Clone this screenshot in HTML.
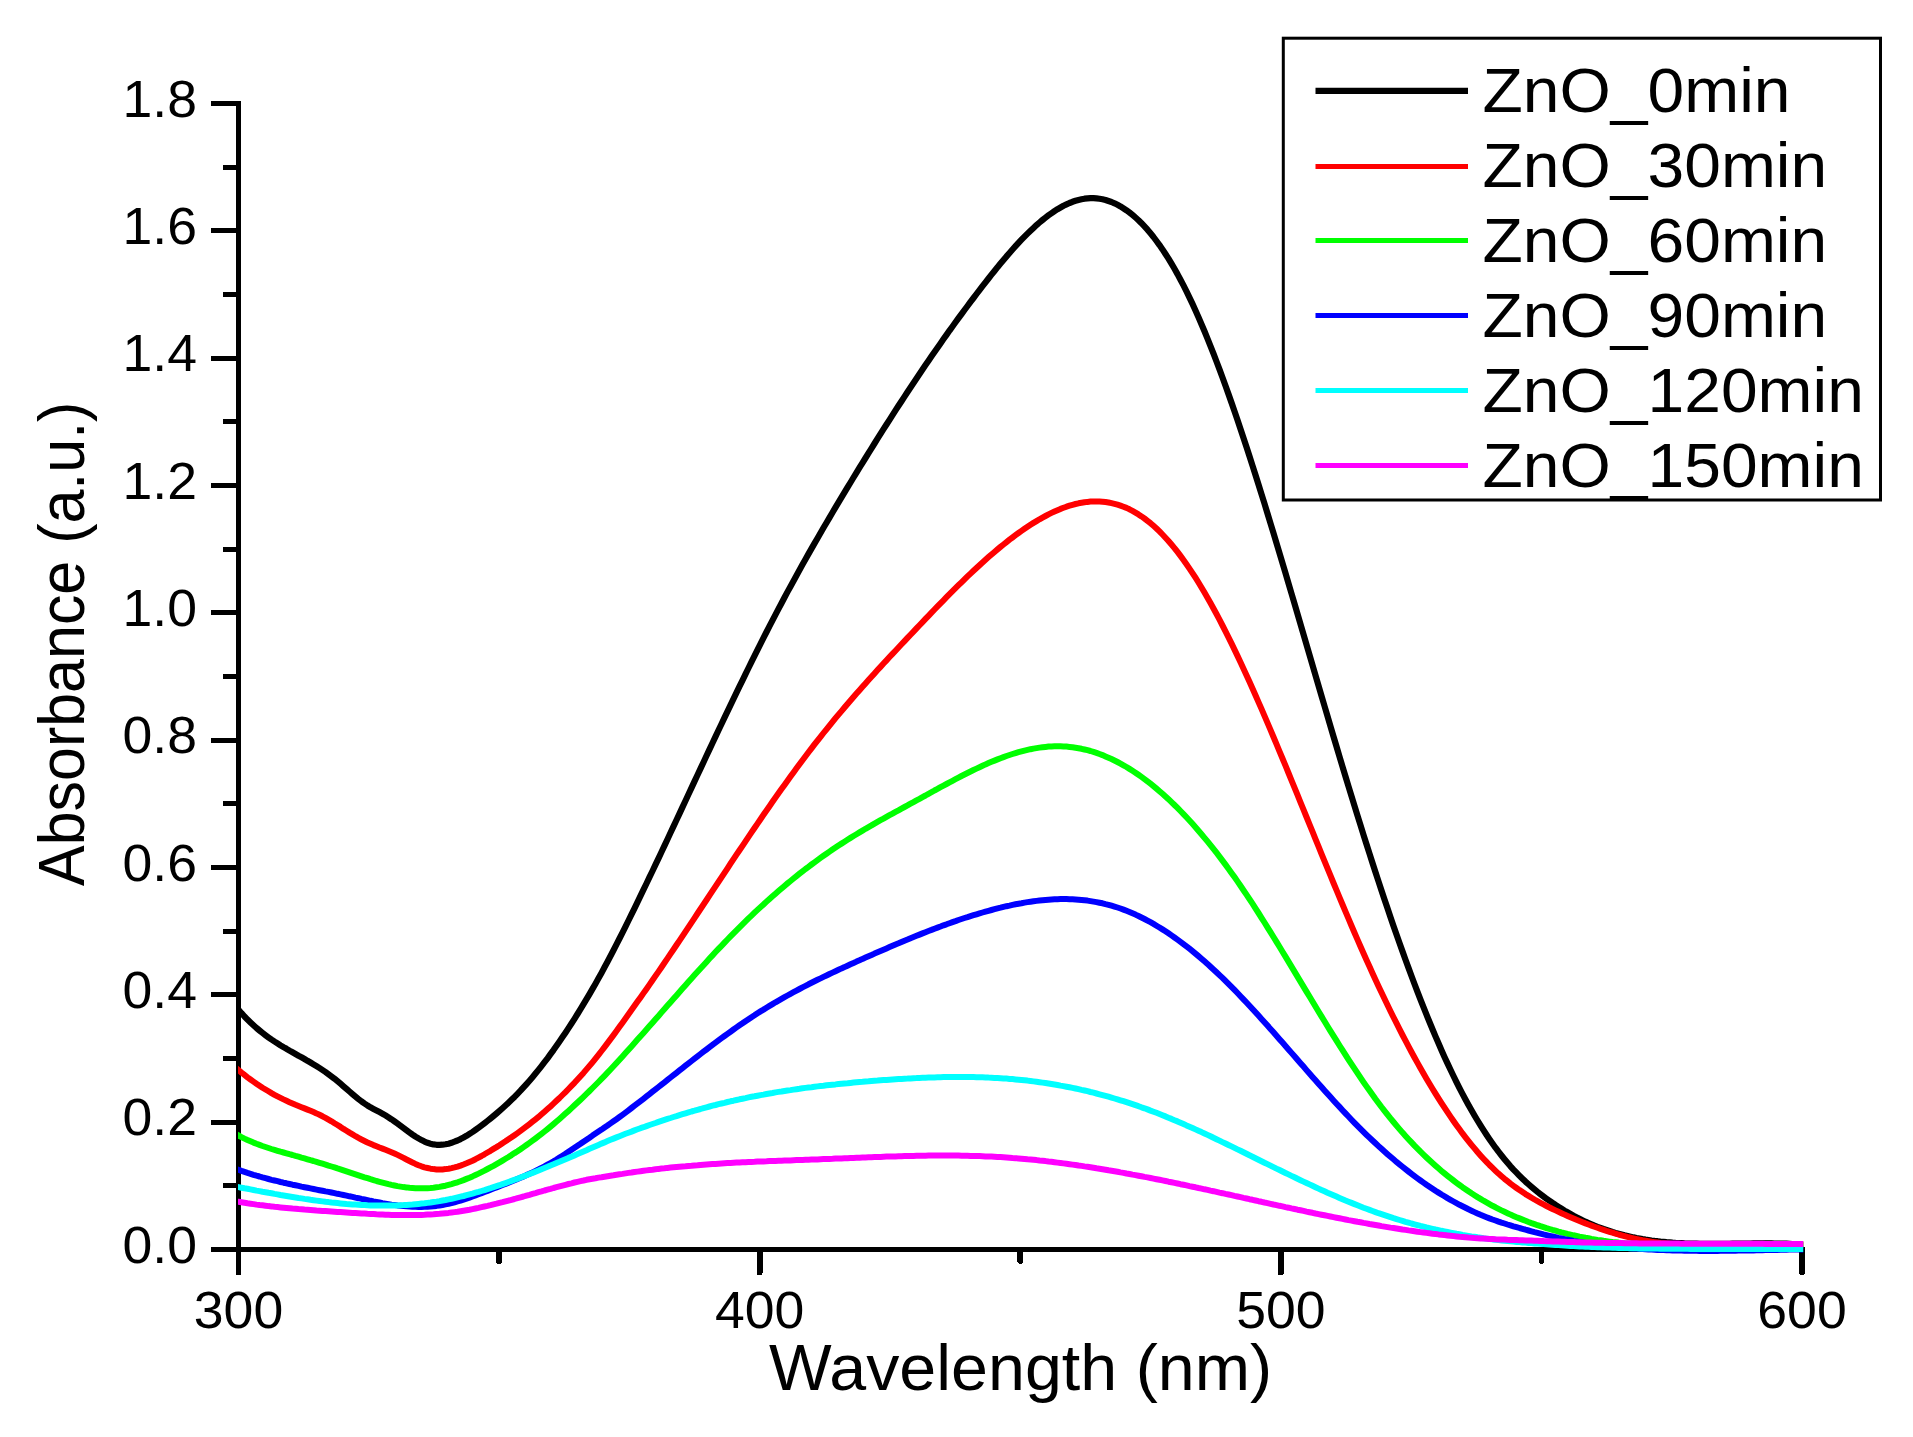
<!DOCTYPE html>
<html lang="en"><head><meta charset="utf-8"><title>ZnO absorbance spectra</title>
<style>html,body{margin:0;padding:0;background:#fff;}svg{display:block;}text{font-family:"Liberation Sans",Arial,Helvetica,sans-serif;fill:#000;}</style></head><body>
<svg width="1913" height="1437" viewBox="0 0 1913 1437">
<rect x="0" y="0" width="1913" height="1437" fill="#ffffff"/>
<g id="axes" fill="#000" shape-rendering="crispEdges">
<rect x="236" y="101" width="5" height="1174"/>
<rect x="211" y="1247" width="1594" height="5"/>
<rect x="211" y="1247.0" width="26" height="5"/>
<rect x="223" y="1183.0" width="14" height="5" rx="1.5"/>
<rect x="211" y="1120.0" width="26" height="5" rx="1.5"/>
<rect x="223" y="1056.0" width="14" height="5" rx="1.5"/>
<rect x="211" y="992.0" width="26" height="5" rx="1.5"/>
<rect x="223" y="929.0" width="14" height="5" rx="1.5"/>
<rect x="211" y="865.0" width="26" height="5" rx="1.5"/>
<rect x="223" y="801.0" width="14" height="5" rx="1.5"/>
<rect x="211" y="738.0" width="26" height="5" rx="1.5"/>
<rect x="223" y="674.0" width="14" height="5" rx="1.5"/>
<rect x="211" y="610.0" width="26" height="5" rx="1.5"/>
<rect x="223" y="547.0" width="14" height="5" rx="1.5"/>
<rect x="211" y="483.0" width="26" height="5" rx="1.5"/>
<rect x="223" y="419.0" width="14" height="5" rx="1.5"/>
<rect x="211" y="356.0" width="26" height="5" rx="1.5"/>
<rect x="223" y="292.0" width="14" height="5" rx="1.5"/>
<rect x="211" y="228.0" width="26" height="5" rx="1.5"/>
<rect x="223" y="165.0" width="14" height="5" rx="1.5"/>
<rect x="211" y="101.0" width="26" height="5"/>
<rect x="235.6" y="1248" width="5.8" height="27" rx="2"/>
<rect x="496.2" y="1248" width="5.8" height="15.8" rx="2"/>
<rect x="756.8" y="1248" width="5.8" height="27" rx="2"/>
<rect x="1017.4" y="1248" width="5.8" height="15.8" rx="2"/>
<rect x="1277.9" y="1248" width="5.8" height="27" rx="2"/>
<rect x="1538.5" y="1248" width="5.8" height="15.8" rx="2"/>
<rect x="1799.1" y="1248" width="5.8" height="27" rx="2"/>
</g>
<g id="ticklabels" font-size="52.00">
<text transform="translate(197.00,1262.80) scale(1.0300,1)" text-anchor="end">0.0</text>
<text transform="translate(197.00,1135.46) scale(1.0300,1)" text-anchor="end">0.2</text>
<text transform="translate(197.00,1008.12) scale(1.0300,1)" text-anchor="end">0.4</text>
<text transform="translate(197.00,880.78) scale(1.0300,1)" text-anchor="end">0.6</text>
<text transform="translate(197.00,753.44) scale(1.0300,1)" text-anchor="end">0.8</text>
<text transform="translate(197.00,626.10) scale(1.0300,1)" text-anchor="end">1.0</text>
<text transform="translate(197.00,498.76) scale(1.0300,1)" text-anchor="end">1.2</text>
<text transform="translate(197.00,371.42) scale(1.0300,1)" text-anchor="end">1.4</text>
<text transform="translate(197.00,244.08) scale(1.0300,1)" text-anchor="end">1.6</text>
<text transform="translate(197.00,116.74) scale(1.0300,1)" text-anchor="end">1.8</text>
<text transform="translate(238.50,1327.60) scale(1.0300,1)" text-anchor="middle">300</text>
<text transform="translate(759.67,1327.60) scale(1.0300,1)" text-anchor="middle">400</text>
<text transform="translate(1280.83,1327.60) scale(1.0300,1)" text-anchor="middle">500</text>
<text transform="translate(1802.00,1327.60) scale(1.0300,1)" text-anchor="middle">600</text>
</g>
<text id="xtitle" font-size="64.30" transform="translate(769.00,1390.20) scale(1.0330,1)">Wavelength (nm)</text>
<text id="ytitle" font-size="64.00" transform="translate(83.90,886.00) rotate(-90) scale(0.9524,1.0000)">Absorbance (a.u.)</text>
<clipPath id="plotclip"><rect x="238" y="90" width="1565.2" height="1175"/></clipPath>
<g id="curves" fill="none" stroke-linejoin="round" stroke-linecap="butt" clip-path="url(#plotclip)">
<path d="M232.5,1002.8 L238.5,1009.7 L241.5,1013.2 L244.5,1016.5 L247.5,1019.6 L250.5,1022.5 L253.5,1025.3 L256.5,1028.0 L259.5,1030.5 L262.5,1032.9 L265.5,1035.2 L268.5,1037.4 L271.5,1039.5 L274.5,1041.5 L277.5,1043.4 L280.5,1045.3 L283.5,1047.1 L286.5,1048.8 L289.5,1050.6 L292.5,1052.3 L295.5,1054.0 L298.5,1055.7 L301.5,1057.3 L304.5,1059.0 L307.5,1060.8 L310.5,1062.5 L313.5,1064.3 L316.5,1066.1 L319.5,1068.0 L322.5,1070.0 L325.5,1072.0 L328.5,1074.2 L331.5,1076.4 L334.5,1078.7 L337.5,1081.2 L340.5,1083.7 L343.5,1086.3 L346.5,1088.9 L349.5,1091.5 L352.5,1094.1 L355.5,1096.6 L358.5,1099.1 L361.5,1101.4 L364.5,1103.5 L367.5,1105.5 L370.5,1107.3 L373.5,1108.9 L376.5,1110.5 L379.5,1112.1 L382.5,1113.7 L385.5,1115.4 L388.5,1117.3 L391.5,1119.3 L394.5,1121.4 L397.5,1123.6 L400.5,1125.8 L403.5,1128.0 L406.5,1130.3 L409.5,1132.5 L412.5,1134.6 L415.5,1136.6 L418.5,1138.4 L421.5,1140.1 L424.5,1141.6 L427.5,1142.8 L430.5,1143.7 L433.5,1144.4 L436.5,1144.8 L439.5,1144.9 L442.5,1144.7 L445.5,1144.3 L448.5,1143.7 L451.5,1142.8 L454.5,1141.7 L457.5,1140.5 L460.5,1139.1 L463.5,1137.5 L466.5,1135.8 L469.5,1133.9 L472.5,1132.0 L475.5,1129.9 L478.5,1127.7 L481.5,1125.5 L484.5,1123.2 L487.5,1120.9 L490.5,1118.5 L493.5,1116.0 L496.5,1113.5 L499.5,1110.9 L502.5,1108.2 L505.5,1105.5 L508.5,1102.7 L511.5,1099.8 L514.5,1096.9 L517.5,1093.8 L520.5,1090.7 L523.5,1087.4 L526.5,1084.1 L529.5,1080.7 L532.5,1077.2 L535.5,1073.6 L538.5,1069.9 L541.5,1066.1 L544.5,1062.2 L547.5,1058.3 L550.5,1054.2 L553.5,1050.1 L556.5,1045.8 L559.5,1041.5 L562.5,1037.1 L565.5,1032.7 L568.5,1028.1 L571.5,1023.5 L574.5,1018.8 L577.5,1014.0 L580.5,1009.2 L583.5,1004.2 L586.5,999.2 L589.5,994.1 L592.5,988.9 L595.5,983.7 L598.5,978.3 L601.5,972.9 L604.5,967.3 L607.5,961.7 L610.5,956.0 L613.5,950.3 L616.5,944.4 L619.5,938.5 L622.5,932.6 L625.5,926.6 L628.5,920.5 L631.5,914.4 L634.5,908.3 L637.5,902.1 L640.5,895.9 L643.5,889.7 L646.5,883.5 L649.5,877.2 L652.5,871.0 L655.5,864.6 L658.5,858.3 L661.5,852.0 L664.5,845.6 L667.5,839.2 L670.5,832.8 L673.5,826.4 L676.5,820.0 L679.5,813.6 L682.5,807.1 L685.5,800.7 L688.5,794.3 L691.5,787.9 L694.5,781.4 L697.5,775.0 L700.5,768.6 L703.5,762.2 L706.5,755.8 L709.5,749.4 L712.5,743.0 L715.5,736.7 L718.5,730.3 L721.5,724.0 L724.5,717.7 L727.5,711.4 L730.5,705.1 L733.5,698.9 L736.5,692.6 L739.5,686.4 L742.5,680.3 L745.5,674.1 L748.5,668.0 L751.5,661.9 L754.5,655.9 L757.5,649.8 L760.5,643.9 L763.5,637.9 L766.5,632.0 L769.5,626.2 L772.5,620.3 L775.5,614.6 L778.5,608.8 L781.5,603.2 L784.5,597.5 L787.5,591.9 L790.5,586.4 L793.5,580.9 L796.5,575.4 L799.5,570.0 L802.5,564.6 L805.5,559.2 L808.5,553.9 L811.5,548.6 L814.5,543.4 L817.5,538.2 L820.5,533.0 L823.5,527.8 L826.5,522.7 L829.5,517.6 L832.5,512.5 L835.5,507.4 L838.5,502.4 L841.5,497.4 L844.5,492.4 L847.5,487.4 L850.5,482.5 L853.5,477.5 L856.5,472.6 L859.5,467.7 L862.5,462.8 L865.5,458.0 L868.5,453.1 L871.5,448.3 L874.5,443.5 L877.5,438.7 L880.5,433.9 L883.5,429.2 L886.5,424.5 L889.5,419.8 L892.5,415.1 L895.5,410.4 L898.5,405.8 L901.5,401.2 L904.5,396.6 L907.5,392.0 L910.5,387.5 L913.5,383.0 L916.5,378.5 L919.5,374.0 L922.5,369.5 L925.5,365.1 L928.5,360.7 L931.5,356.3 L934.5,352.0 L937.5,347.7 L940.5,343.4 L943.5,339.1 L946.5,334.9 L949.5,330.6 L952.5,326.5 L955.5,322.3 L958.5,318.2 L961.5,314.1 L964.5,310.0 L967.5,306.0 L970.5,301.9 L973.5,298.0 L976.5,294.0 L979.5,290.1 L982.5,286.2 L985.5,282.3 L988.5,278.5 L991.5,274.7 L994.5,271.0 L997.5,267.2 L1000.5,263.6 L1003.5,260.0 L1006.5,256.4 L1009.5,253.0 L1012.5,249.5 L1015.5,246.2 L1018.5,242.9 L1021.5,239.7 L1024.5,236.6 L1027.5,233.6 L1030.5,230.7 L1033.5,227.9 L1036.5,225.1 L1039.5,222.5 L1042.5,220.0 L1045.5,217.6 L1048.5,215.3 L1051.5,213.2 L1054.5,211.1 L1057.5,209.2 L1060.5,207.5 L1063.5,205.8 L1066.5,204.4 L1069.5,203.0 L1072.5,201.8 L1075.5,200.8 L1078.5,200.0 L1081.5,199.3 L1084.5,198.7 L1087.5,198.4 L1090.5,198.2 L1093.5,198.2 L1096.5,198.4 L1099.5,198.8 L1102.5,199.3 L1105.5,200.0 L1108.5,201.0 L1111.5,202.0 L1114.5,203.3 L1117.5,204.8 L1120.5,206.4 L1123.5,208.3 L1126.5,210.3 L1129.5,212.5 L1132.5,214.9 L1135.5,217.5 L1138.5,220.2 L1141.5,223.2 L1144.5,226.4 L1147.5,229.7 L1150.5,233.3 L1153.5,237.0 L1156.5,241.0 L1159.5,245.1 L1162.5,249.4 L1165.5,254.0 L1168.5,258.7 L1171.5,263.7 L1174.5,268.8 L1177.5,274.1 L1180.5,279.7 L1183.5,285.4 L1186.5,291.4 L1189.5,297.6 L1192.5,303.9 L1195.5,310.5 L1198.5,317.2 L1201.5,324.2 L1204.5,331.3 L1207.5,338.6 L1210.5,346.1 L1213.5,353.7 L1216.5,361.5 L1219.5,369.4 L1222.5,377.5 L1225.5,385.7 L1228.5,394.1 L1231.5,402.6 L1234.5,411.3 L1237.5,420.0 L1240.5,428.9 L1243.5,437.9 L1246.5,447.0 L1249.5,456.2 L1252.5,465.6 L1255.5,475.0 L1258.5,484.5 L1261.5,494.1 L1264.5,503.7 L1267.5,513.5 L1270.5,523.3 L1273.5,533.1 L1276.5,543.1 L1279.5,553.1 L1282.5,563.1 L1285.5,573.2 L1288.5,583.3 L1291.5,593.5 L1294.5,603.7 L1297.5,613.9 L1300.5,624.1 L1303.5,634.3 L1306.5,644.6 L1309.5,654.9 L1312.5,665.1 L1315.5,675.4 L1318.5,685.6 L1321.5,695.8 L1324.5,706.0 L1327.5,716.2 L1330.5,726.4 L1333.5,736.5 L1336.5,746.5 L1339.5,756.6 L1342.5,766.6 L1345.5,776.5 L1348.5,786.3 L1351.5,796.2 L1354.5,805.9 L1357.5,815.6 L1360.5,825.2 L1363.5,834.8 L1366.5,844.2 L1369.5,853.6 L1372.5,863.0 L1375.5,872.2 L1378.5,881.4 L1381.5,890.5 L1384.5,899.4 L1387.5,908.3 L1390.5,917.2 L1393.5,925.9 L1396.5,934.5 L1399.5,943.0 L1402.5,951.4 L1405.5,959.7 L1408.5,967.9 L1411.5,976.0 L1414.5,984.0 L1417.5,991.8 L1420.5,999.6 L1423.5,1007.2 L1426.5,1014.7 L1429.5,1022.0 L1432.5,1029.3 L1435.5,1036.4 L1438.5,1043.3 L1441.5,1050.2 L1444.5,1056.9 L1447.5,1063.4 L1450.5,1069.8 L1453.5,1076.0 L1456.5,1082.1 L1459.5,1088.1 L1462.5,1093.9 L1465.5,1099.5 L1468.5,1105.0 L1471.5,1110.3 L1474.5,1115.5 L1477.5,1120.5 L1480.5,1125.4 L1483.5,1130.2 L1486.5,1134.8 L1489.5,1139.2 L1492.5,1143.5 L1495.5,1147.7 L1498.5,1151.7 L1501.5,1155.5 L1504.5,1159.2 L1507.5,1162.8 L1510.5,1166.3 L1513.5,1169.6 L1516.5,1172.7 L1519.5,1175.8 L1522.5,1178.7 L1525.5,1181.6 L1528.5,1184.3 L1531.5,1186.9 L1534.5,1189.4 L1537.5,1191.9 L1540.5,1194.2 L1543.5,1196.5 L1546.5,1198.7 L1549.5,1200.8 L1552.5,1202.9 L1555.5,1204.9 L1558.5,1206.8 L1561.5,1208.7 L1564.5,1210.6 L1567.5,1212.3 L1570.5,1214.0 L1573.5,1215.7 L1576.5,1217.3 L1579.5,1218.8 L1582.5,1220.3 L1585.5,1221.7 L1588.5,1223.0 L1591.5,1224.3 L1594.5,1225.6 L1597.5,1226.8 L1600.5,1227.9 L1603.5,1229.0 L1606.5,1230.0 L1609.5,1231.0 L1612.5,1232.0 L1615.5,1232.9 L1618.5,1233.7 L1621.5,1234.5 L1624.5,1235.3 L1627.5,1236.0 L1630.5,1236.7 L1633.5,1237.4 L1636.5,1238.0 L1639.5,1238.5 L1642.5,1239.1 L1645.5,1239.6 L1648.5,1240.0 L1651.5,1240.5 L1654.5,1240.9 L1657.5,1241.2 L1660.5,1241.6 L1663.5,1241.9 L1666.5,1242.2 L1669.5,1242.4 L1672.5,1242.7 L1675.5,1242.9 L1678.5,1243.0 L1681.5,1243.2 L1684.5,1243.4 L1687.5,1243.5 L1690.5,1243.6 L1693.5,1243.7 L1696.5,1243.7 L1699.5,1243.8 L1702.5,1243.8 L1705.5,1243.9 L1708.5,1243.9 L1711.5,1243.9 L1714.5,1243.9 L1717.5,1243.9 L1720.5,1243.8 L1723.5,1243.8 L1726.5,1243.8 L1729.5,1243.8 L1732.5,1243.7 L1735.5,1243.7 L1738.5,1243.6 L1741.5,1243.6 L1744.5,1243.5 L1747.5,1243.5 L1750.5,1243.5 L1753.5,1243.4 L1756.5,1243.4 L1759.5,1243.4 L1762.5,1243.4 L1765.5,1243.4 L1768.5,1243.4 L1771.5,1243.4 L1774.5,1243.5 L1777.5,1243.5 L1780.5,1243.6 L1783.5,1243.6 L1786.5,1243.7 L1789.5,1243.8 L1792.5,1244.0 L1795.5,1244.1 L1798.5,1244.3 L1801.5,1244.5 L1802.0,1244.5 L1808.0,1244.5" stroke="#000000" stroke-width="6.2"/>
<path d="M232.5,1065.1 L238.5,1070.1 L241.5,1072.6 L244.5,1074.9 L247.5,1077.3 L250.5,1079.5 L253.5,1081.6 L256.5,1083.7 L259.5,1085.7 L262.5,1087.7 L265.5,1089.5 L268.5,1091.3 L271.5,1093.1 L274.5,1094.8 L277.5,1096.4 L280.5,1097.9 L283.5,1099.4 L286.5,1100.8 L289.5,1102.2 L292.5,1103.5 L295.5,1104.8 L298.5,1106.0 L301.5,1107.2 L304.5,1108.4 L307.5,1109.6 L310.5,1110.8 L313.5,1112.1 L316.5,1113.4 L319.5,1114.8 L322.5,1116.3 L325.5,1117.9 L328.5,1119.6 L331.5,1121.3 L334.5,1123.2 L337.5,1125.0 L340.5,1126.9 L343.5,1128.9 L346.5,1130.7 L349.5,1132.6 L352.5,1134.4 L355.5,1136.2 L358.5,1137.9 L361.5,1139.5 L364.5,1141.0 L367.5,1142.5 L370.5,1143.8 L373.5,1145.1 L376.5,1146.3 L379.5,1147.5 L382.5,1148.6 L385.5,1149.8 L388.5,1151.0 L391.5,1152.2 L394.5,1153.5 L397.5,1154.9 L400.5,1156.4 L403.5,1157.9 L406.5,1159.5 L409.5,1161.0 L412.5,1162.5 L415.5,1163.9 L418.5,1165.2 L421.5,1166.3 L424.5,1167.3 L427.5,1168.0 L430.5,1168.7 L433.5,1169.1 L436.5,1169.4 L439.5,1169.5 L442.5,1169.4 L445.5,1169.1 L448.5,1168.7 L451.5,1168.1 L454.5,1167.4 L457.5,1166.6 L460.5,1165.6 L463.5,1164.5 L466.5,1163.3 L469.5,1162.0 L472.5,1160.7 L475.5,1159.2 L478.5,1157.6 L481.5,1156.0 L484.5,1154.3 L487.5,1152.5 L490.5,1150.8 L493.5,1148.9 L496.5,1147.1 L499.5,1145.2 L502.5,1143.2 L505.5,1141.3 L508.5,1139.3 L511.5,1137.3 L514.5,1135.2 L517.5,1133.1 L520.5,1130.9 L523.5,1128.7 L526.5,1126.4 L529.5,1124.1 L532.5,1121.7 L535.5,1119.3 L538.5,1116.9 L541.5,1114.3 L544.5,1111.7 L547.5,1109.1 L550.5,1106.4 L553.5,1103.6 L556.5,1100.8 L559.5,1098.0 L562.5,1095.0 L565.5,1092.1 L568.5,1089.0 L571.5,1085.9 L574.5,1082.8 L577.5,1079.5 L580.5,1076.2 L583.5,1072.9 L586.5,1069.4 L589.5,1065.9 L592.5,1062.3 L595.5,1058.6 L598.5,1054.8 L601.5,1051.0 L604.5,1047.1 L607.5,1043.1 L610.5,1039.1 L613.5,1035.1 L616.5,1031.0 L619.5,1026.8 L622.5,1022.7 L625.5,1018.5 L628.5,1014.3 L631.5,1010.1 L634.5,1005.8 L637.5,1001.6 L640.5,997.4 L643.5,993.1 L646.5,988.9 L649.5,984.6 L652.5,980.3 L655.5,975.9 L658.5,971.6 L661.5,967.2 L664.5,962.8 L667.5,958.4 L670.5,953.9 L673.5,949.5 L676.5,945.0 L679.5,940.6 L682.5,936.1 L685.5,931.6 L688.5,927.1 L691.5,922.6 L694.5,918.1 L697.5,913.5 L700.5,909.0 L703.5,904.5 L706.5,900.0 L709.5,895.4 L712.5,890.9 L715.5,886.4 L718.5,881.8 L721.5,877.3 L724.5,872.8 L727.5,868.3 L730.5,863.7 L733.5,859.2 L736.5,854.7 L739.5,850.3 L742.5,845.8 L745.5,841.3 L748.5,836.9 L751.5,832.4 L754.5,828.0 L757.5,823.6 L760.5,819.2 L763.5,814.8 L766.5,810.5 L769.5,806.2 L772.5,801.8 L775.5,797.6 L778.5,793.3 L781.5,789.1 L784.5,784.9 L787.5,780.7 L790.5,776.5 L793.5,772.4 L796.5,768.3 L799.5,764.2 L802.5,760.2 L805.5,756.2 L808.5,752.2 L811.5,748.3 L814.5,744.4 L817.5,740.6 L820.5,736.8 L823.5,733.0 L826.5,729.3 L829.5,725.6 L832.5,721.9 L835.5,718.2 L838.5,714.6 L841.5,711.1 L844.5,707.5 L847.5,704.0 L850.5,700.5 L853.5,697.0 L856.5,693.6 L859.5,690.2 L862.5,686.8 L865.5,683.4 L868.5,680.1 L871.5,676.8 L874.5,673.4 L877.5,670.1 L880.5,666.9 L883.5,663.6 L886.5,660.4 L889.5,657.1 L892.5,653.9 L895.5,650.7 L898.5,647.5 L901.5,644.3 L904.5,641.1 L907.5,637.9 L910.5,634.7 L913.5,631.6 L916.5,628.4 L919.5,625.2 L922.5,622.1 L925.5,618.9 L928.5,615.8 L931.5,612.7 L934.5,609.5 L937.5,606.4 L940.5,603.3 L943.5,600.3 L946.5,597.2 L949.5,594.2 L952.5,591.2 L955.5,588.2 L958.5,585.2 L961.5,582.3 L964.5,579.3 L967.5,576.4 L970.5,573.6 L973.5,570.8 L976.5,568.0 L979.5,565.2 L982.5,562.5 L985.5,559.8 L988.5,557.1 L991.5,554.5 L994.5,551.9 L997.5,549.4 L1000.5,546.9 L1003.5,544.5 L1006.5,542.1 L1009.5,539.7 L1012.5,537.5 L1015.5,535.2 L1018.5,533.0 L1021.5,530.9 L1024.5,528.8 L1027.5,526.8 L1030.5,524.8 L1033.5,522.9 L1036.5,521.1 L1039.5,519.3 L1042.5,517.6 L1045.5,516.0 L1048.5,514.4 L1051.5,512.9 L1054.5,511.5 L1057.5,510.2 L1060.5,508.9 L1063.5,507.8 L1066.5,506.7 L1069.5,505.7 L1072.5,504.8 L1075.5,504.0 L1078.5,503.3 L1081.5,502.8 L1084.5,502.3 L1087.5,501.9 L1090.5,501.6 L1093.5,501.5 L1096.5,501.4 L1099.5,501.5 L1102.5,501.7 L1105.5,502.0 L1108.5,502.5 L1111.5,503.1 L1114.5,503.8 L1117.5,504.6 L1120.5,505.6 L1123.5,506.7 L1126.5,507.9 L1129.5,509.3 L1132.5,510.9 L1135.5,512.6 L1138.5,514.4 L1141.5,516.4 L1144.5,518.5 L1147.5,520.8 L1150.5,523.2 L1153.5,525.8 L1156.5,528.5 L1159.5,531.4 L1162.5,534.5 L1165.5,537.7 L1168.5,541.0 L1171.5,544.5 L1174.5,548.1 L1177.5,551.9 L1180.5,555.9 L1183.5,560.0 L1186.5,564.2 L1189.5,568.6 L1192.5,573.1 L1195.5,577.7 L1198.5,582.5 L1201.5,587.5 L1204.5,592.5 L1207.5,597.7 L1210.5,603.0 L1213.5,608.5 L1216.5,614.0 L1219.5,619.7 L1222.5,625.5 L1225.5,631.4 L1228.5,637.3 L1231.5,643.4 L1234.5,649.6 L1237.5,655.9 L1240.5,662.3 L1243.5,668.7 L1246.5,675.2 L1249.5,681.8 L1252.5,688.5 L1255.5,695.3 L1258.5,702.1 L1261.5,708.9 L1264.5,715.9 L1267.5,722.9 L1270.5,729.9 L1273.5,737.0 L1276.5,744.1 L1279.5,751.3 L1282.5,758.5 L1285.5,765.7 L1288.5,773.0 L1291.5,780.3 L1294.5,787.6 L1297.5,794.9 L1300.5,802.3 L1303.5,809.6 L1306.5,817.0 L1309.5,824.4 L1312.5,831.7 L1315.5,839.1 L1318.5,846.4 L1321.5,853.8 L1324.5,861.1 L1327.5,868.4 L1330.5,875.7 L1333.5,883.0 L1336.5,890.2 L1339.5,897.4 L1342.5,904.5 L1345.5,911.6 L1348.5,918.7 L1351.5,925.7 L1354.5,932.7 L1357.5,939.6 L1360.5,946.5 L1363.5,953.3 L1366.5,960.0 L1369.5,966.6 L1372.5,973.2 L1375.5,979.7 L1378.5,986.2 L1381.5,992.5 L1384.5,998.8 L1387.5,1005.0 L1390.5,1011.2 L1393.5,1017.3 L1396.5,1023.2 L1399.5,1029.2 L1402.5,1035.0 L1405.5,1040.7 L1408.5,1046.4 L1411.5,1052.0 L1414.5,1057.5 L1417.5,1062.9 L1420.5,1068.2 L1423.5,1073.5 L1426.5,1078.7 L1429.5,1083.7 L1432.5,1088.7 L1435.5,1093.6 L1438.5,1098.4 L1441.5,1103.1 L1444.5,1107.7 L1447.5,1112.2 L1450.5,1116.6 L1453.5,1121.0 L1456.5,1125.2 L1459.5,1129.3 L1462.5,1133.4 L1465.5,1137.3 L1468.5,1141.1 L1471.5,1144.8 L1474.5,1148.4 L1477.5,1152.0 L1480.5,1155.4 L1483.5,1158.7 L1486.5,1161.9 L1489.5,1165.0 L1492.5,1167.9 L1495.5,1170.8 L1498.5,1173.6 L1501.5,1176.2 L1504.5,1178.8 L1507.5,1181.2 L1510.5,1183.6 L1513.5,1185.8 L1516.5,1188.0 L1519.5,1190.1 L1522.5,1192.1 L1525.5,1194.1 L1528.5,1195.9 L1531.5,1197.7 L1534.5,1199.5 L1537.5,1201.2 L1540.5,1202.8 L1543.5,1204.4 L1546.5,1206.0 L1549.5,1207.5 L1552.5,1209.0 L1555.5,1210.4 L1558.5,1211.8 L1561.5,1213.2 L1564.5,1214.6 L1567.5,1215.9 L1570.5,1217.2 L1573.5,1218.5 L1576.5,1219.8 L1579.5,1221.0 L1582.5,1222.2 L1585.5,1223.4 L1588.5,1224.5 L1591.5,1225.6 L1594.5,1226.7 L1597.5,1227.8 L1600.5,1228.9 L1603.5,1229.9 L1606.5,1230.9 L1609.5,1231.8 L1612.5,1232.7 L1615.5,1233.6 L1618.5,1234.5 L1621.5,1235.3 L1624.5,1236.1 L1627.5,1236.9 L1630.5,1237.6 L1633.5,1238.3 L1636.5,1239.0 L1639.5,1239.6 L1642.5,1240.2 L1645.5,1240.7 L1648.5,1241.2 L1651.5,1241.7 L1654.5,1242.1 L1657.5,1242.5 L1660.5,1242.9 L1663.5,1243.2 L1666.5,1243.5 L1669.5,1243.8 L1672.5,1244.1 L1675.5,1244.3 L1678.5,1244.5 L1681.5,1244.6 L1684.5,1244.8 L1687.5,1244.9 L1690.5,1245.0 L1693.5,1245.1 L1696.5,1245.1 L1699.5,1245.2 L1702.5,1245.2 L1705.5,1245.2 L1708.5,1245.2 L1711.5,1245.2 L1714.5,1245.1 L1717.5,1245.1 L1720.5,1245.0 L1723.5,1245.0 L1726.5,1244.9 L1729.5,1244.8 L1732.5,1244.8 L1735.5,1244.7 L1738.5,1244.6 L1741.5,1244.5 L1744.5,1244.4 L1747.5,1244.4 L1750.5,1244.3 L1753.5,1244.2 L1756.5,1244.1 L1759.5,1244.1 L1762.5,1244.0 L1765.5,1244.0 L1768.5,1243.9 L1771.5,1243.9 L1774.5,1243.9 L1777.5,1243.9 L1780.5,1243.9 L1783.5,1244.0 L1786.5,1244.0 L1789.5,1244.1 L1792.5,1244.2 L1795.5,1244.3 L1798.5,1244.4 L1801.5,1244.5 L1802.0,1244.6 L1808.0,1244.6" stroke="#ff0000" stroke-width="6"/>
<path d="M232.5,1132.4 L238.5,1135.5 L241.5,1137.1 L244.5,1138.6 L247.5,1140.0 L250.5,1141.3 L253.5,1142.6 L256.5,1143.8 L259.5,1144.9 L262.5,1146.0 L265.5,1147.0 L268.5,1148.0 L271.5,1149.0 L274.5,1149.9 L277.5,1150.8 L280.5,1151.7 L283.5,1152.5 L286.5,1153.3 L289.5,1154.2 L292.5,1155.0 L295.5,1155.9 L298.5,1156.7 L301.5,1157.6 L304.5,1158.4 L307.5,1159.3 L310.5,1160.2 L313.5,1161.0 L316.5,1161.9 L319.5,1162.8 L322.5,1163.7 L325.5,1164.6 L328.5,1165.6 L331.5,1166.5 L334.5,1167.4 L337.5,1168.4 L340.5,1169.3 L343.5,1170.3 L346.5,1171.3 L349.5,1172.3 L352.5,1173.3 L355.5,1174.3 L358.5,1175.3 L361.5,1176.3 L364.5,1177.3 L367.5,1178.2 L370.5,1179.2 L373.5,1180.1 L376.5,1181.0 L379.5,1181.8 L382.5,1182.6 L385.5,1183.4 L388.5,1184.2 L391.5,1184.9 L394.5,1185.5 L397.5,1186.1 L400.5,1186.6 L403.5,1187.1 L406.5,1187.4 L409.5,1187.8 L412.5,1188.0 L415.5,1188.2 L418.5,1188.3 L421.5,1188.3 L424.5,1188.3 L427.5,1188.2 L430.5,1188.0 L433.5,1187.7 L436.5,1187.3 L439.5,1186.9 L442.5,1186.3 L445.5,1185.7 L448.5,1184.9 L451.5,1184.1 L454.5,1183.2 L457.5,1182.3 L460.5,1181.2 L463.5,1180.1 L466.5,1178.9 L469.5,1177.7 L472.5,1176.4 L475.5,1175.0 L478.5,1173.6 L481.5,1172.1 L484.5,1170.6 L487.5,1169.0 L490.5,1167.4 L493.5,1165.8 L496.5,1164.1 L499.5,1162.4 L502.5,1160.6 L505.5,1158.8 L508.5,1157.0 L511.5,1155.1 L514.5,1153.1 L517.5,1151.2 L520.5,1149.2 L523.5,1147.1 L526.5,1145.0 L529.5,1142.9 L532.5,1140.7 L535.5,1138.5 L538.5,1136.2 L541.5,1133.9 L544.5,1131.5 L547.5,1129.1 L550.5,1126.6 L553.5,1124.1 L556.5,1121.5 L559.5,1118.9 L562.5,1116.3 L565.5,1113.6 L568.5,1110.9 L571.5,1108.1 L574.5,1105.3 L577.5,1102.5 L580.5,1099.7 L583.5,1096.8 L586.5,1093.9 L589.5,1091.0 L592.5,1088.0 L595.5,1085.0 L598.5,1082.0 L601.5,1078.9 L604.5,1075.8 L607.5,1072.7 L610.5,1069.5 L613.5,1066.3 L616.5,1063.0 L619.5,1059.7 L622.5,1056.4 L625.5,1053.1 L628.5,1049.7 L631.5,1046.4 L634.5,1043.0 L637.5,1039.6 L640.5,1036.2 L643.5,1032.9 L646.5,1029.5 L649.5,1026.1 L652.5,1022.7 L655.5,1019.3 L658.5,1015.9 L661.5,1012.4 L664.5,1009.0 L667.5,1005.6 L670.5,1002.2 L673.5,998.8 L676.5,995.4 L679.5,992.0 L682.5,988.6 L685.5,985.2 L688.5,981.8 L691.5,978.5 L694.5,975.1 L697.5,971.8 L700.5,968.5 L703.5,965.2 L706.5,961.9 L709.5,958.6 L712.5,955.4 L715.5,952.1 L718.5,948.9 L721.5,945.8 L724.5,942.6 L727.5,939.5 L730.5,936.4 L733.5,933.3 L736.5,930.3 L739.5,927.3 L742.5,924.3 L745.5,921.4 L748.5,918.4 L751.5,915.6 L754.5,912.7 L757.5,909.9 L760.5,907.1 L763.5,904.4 L766.5,901.6 L769.5,898.9 L772.5,896.3 L775.5,893.7 L778.5,891.1 L781.5,888.5 L784.5,885.9 L787.5,883.4 L790.5,881.0 L793.5,878.5 L796.5,876.1 L799.5,873.7 L802.5,871.4 L805.5,869.0 L808.5,866.8 L811.5,864.5 L814.5,862.3 L817.5,860.1 L820.5,857.9 L823.5,855.8 L826.5,853.7 L829.5,851.6 L832.5,849.5 L835.5,847.5 L838.5,845.5 L841.5,843.6 L844.5,841.7 L847.5,839.8 L850.5,837.9 L853.5,836.0 L856.5,834.2 L859.5,832.4 L862.5,830.6 L865.5,828.8 L868.5,827.1 L871.5,825.4 L874.5,823.6 L877.5,821.9 L880.5,820.2 L883.5,818.6 L886.5,816.9 L889.5,815.2 L892.5,813.6 L895.5,811.9 L898.5,810.3 L901.5,808.6 L904.5,807.0 L907.5,805.4 L910.5,803.7 L913.5,802.1 L916.5,800.4 L919.5,798.8 L922.5,797.1 L925.5,795.5 L928.5,793.8 L931.5,792.2 L934.5,790.5 L937.5,788.9 L940.5,787.2 L943.5,785.6 L946.5,784.0 L949.5,782.4 L952.5,780.8 L955.5,779.2 L958.5,777.6 L961.5,776.0 L964.5,774.5 L967.5,773.0 L970.5,771.5 L973.5,770.0 L976.5,768.6 L979.5,767.2 L982.5,765.8 L985.5,764.4 L988.5,763.1 L991.5,761.8 L994.5,760.6 L997.5,759.4 L1000.5,758.2 L1003.5,757.1 L1006.5,756.0 L1009.5,755.0 L1012.5,754.0 L1015.5,753.1 L1018.5,752.2 L1021.5,751.4 L1024.5,750.6 L1027.5,749.9 L1030.5,749.2 L1033.5,748.6 L1036.5,748.1 L1039.5,747.6 L1042.5,747.2 L1045.5,746.9 L1048.5,746.6 L1051.5,746.4 L1054.5,746.3 L1057.5,746.3 L1060.5,746.3 L1063.5,746.4 L1066.5,746.6 L1069.5,746.9 L1072.5,747.2 L1075.5,747.7 L1078.5,748.2 L1081.5,748.8 L1084.5,749.5 L1087.5,750.2 L1090.5,751.0 L1093.5,751.9 L1096.5,752.9 L1099.5,754.0 L1102.5,755.1 L1105.5,756.4 L1108.5,757.7 L1111.5,759.0 L1114.5,760.5 L1117.5,762.0 L1120.5,763.6 L1123.5,765.3 L1126.5,767.0 L1129.5,768.9 L1132.5,770.8 L1135.5,772.7 L1138.5,774.8 L1141.5,776.9 L1144.5,779.1 L1147.5,781.4 L1150.5,783.7 L1153.5,786.1 L1156.5,788.6 L1159.5,791.2 L1162.5,793.8 L1165.5,796.5 L1168.5,799.2 L1171.5,802.1 L1174.5,805.0 L1177.5,807.9 L1180.5,811.0 L1183.5,814.1 L1186.5,817.3 L1189.5,820.5 L1192.5,823.8 L1195.5,827.2 L1198.5,830.7 L1201.5,834.2 L1204.5,837.8 L1207.5,841.4 L1210.5,845.1 L1213.5,848.9 L1216.5,852.7 L1219.5,856.6 L1222.5,860.6 L1225.5,864.6 L1228.5,868.7 L1231.5,872.9 L1234.5,877.1 L1237.5,881.4 L1240.5,885.8 L1243.5,890.2 L1246.5,894.6 L1249.5,899.2 L1252.5,903.7 L1255.5,908.4 L1258.5,913.0 L1261.5,917.8 L1264.5,922.5 L1267.5,927.3 L1270.5,932.1 L1273.5,937.0 L1276.5,941.9 L1279.5,946.8 L1282.5,951.7 L1285.5,956.6 L1288.5,961.6 L1291.5,966.6 L1294.5,971.6 L1297.5,976.6 L1300.5,981.6 L1303.5,986.6 L1306.5,991.6 L1309.5,996.5 L1312.5,1001.5 L1315.5,1006.5 L1318.5,1011.5 L1321.5,1016.4 L1324.5,1021.3 L1327.5,1026.2 L1330.5,1031.1 L1333.5,1035.9 L1336.5,1040.7 L1339.5,1045.5 L1342.5,1050.2 L1345.5,1054.9 L1348.5,1059.6 L1351.5,1064.2 L1354.5,1068.7 L1357.5,1073.2 L1360.5,1077.7 L1363.5,1082.1 L1366.5,1086.4 L1369.5,1090.6 L1372.5,1094.8 L1375.5,1099.0 L1378.5,1103.0 L1381.5,1107.0 L1384.5,1110.8 L1387.5,1114.6 L1390.5,1118.4 L1393.5,1122.0 L1396.5,1125.6 L1399.5,1129.1 L1402.5,1132.6 L1405.5,1135.9 L1408.5,1139.2 L1411.5,1142.4 L1414.5,1145.6 L1417.5,1148.6 L1420.5,1151.7 L1423.5,1154.6 L1426.5,1157.5 L1429.5,1160.3 L1432.5,1163.0 L1435.5,1165.7 L1438.5,1168.3 L1441.5,1170.9 L1444.5,1173.4 L1447.5,1175.8 L1450.5,1178.2 L1453.5,1180.5 L1456.5,1182.8 L1459.5,1185.0 L1462.5,1187.2 L1465.5,1189.2 L1468.5,1191.3 L1471.5,1193.3 L1474.5,1195.2 L1477.5,1197.1 L1480.5,1198.9 L1483.5,1200.7 L1486.5,1202.4 L1489.5,1204.1 L1492.5,1205.8 L1495.5,1207.3 L1498.5,1208.9 L1501.5,1210.4 L1504.5,1211.8 L1507.5,1213.2 L1510.5,1214.6 L1513.5,1215.9 L1516.5,1217.2 L1519.5,1218.4 L1522.5,1219.6 L1525.5,1220.8 L1528.5,1222.0 L1531.5,1223.1 L1534.5,1224.1 L1537.5,1225.2 L1540.5,1226.2 L1543.5,1227.1 L1546.5,1228.1 L1549.5,1229.0 L1552.5,1229.9 L1555.5,1230.7 L1558.5,1231.6 L1561.5,1232.4 L1564.5,1233.1 L1567.5,1233.9 L1570.5,1234.6 L1573.5,1235.3 L1576.5,1235.9 L1579.5,1236.6 L1582.5,1237.2 L1585.5,1237.8 L1588.5,1238.3 L1591.5,1238.9 L1594.5,1239.4 L1597.5,1239.9 L1600.5,1240.3 L1603.5,1240.8 L1606.5,1241.2 L1609.5,1241.6 L1612.5,1242.0 L1615.5,1242.3 L1618.5,1242.6 L1621.5,1243.0 L1624.5,1243.3 L1627.5,1243.5 L1630.5,1243.8 L1633.5,1244.1 L1636.5,1244.3 L1639.5,1244.5 L1642.5,1244.7 L1645.5,1244.9 L1648.5,1245.0 L1651.5,1245.2 L1654.5,1245.3 L1657.5,1245.5 L1660.5,1245.6 L1663.5,1245.7 L1666.5,1245.8 L1669.5,1245.8 L1672.5,1245.9 L1675.5,1245.9 L1678.5,1246.0 L1681.5,1246.0 L1684.5,1246.1 L1687.5,1246.1 L1690.5,1246.1 L1693.5,1246.1 L1696.5,1246.1 L1699.5,1246.1 L1702.5,1246.1 L1705.5,1246.0 L1708.5,1246.0 L1711.5,1246.0 L1714.5,1245.9 L1717.5,1245.9 L1720.5,1245.9 L1723.5,1245.8 L1726.5,1245.8 L1729.5,1245.7 L1732.5,1245.7 L1735.5,1245.6 L1738.5,1245.6 L1741.5,1245.5 L1744.5,1245.5 L1747.5,1245.4 L1750.5,1245.4 L1753.5,1245.4 L1756.5,1245.3 L1759.5,1245.3 L1762.5,1245.3 L1765.5,1245.2 L1768.5,1245.2 L1771.5,1245.2 L1774.5,1245.2 L1777.5,1245.2 L1780.5,1245.2 L1783.5,1245.2 L1786.5,1245.2 L1789.5,1245.3 L1792.5,1245.3 L1795.5,1245.3 L1798.5,1245.4 L1801.5,1245.5 L1802.0,1245.5 L1808.0,1245.5" stroke="#00ff00" stroke-width="6"/>
<path d="M232.5,1167.7 L238.5,1169.8 L241.5,1170.9 L244.5,1171.9 L247.5,1172.9 L250.5,1173.8 L253.5,1174.8 L256.5,1175.7 L259.5,1176.5 L262.5,1177.4 L265.5,1178.2 L268.5,1179.0 L271.5,1179.8 L274.5,1180.5 L277.5,1181.2 L280.5,1182.0 L283.5,1182.7 L286.5,1183.3 L289.5,1184.0 L292.5,1184.7 L295.5,1185.3 L298.5,1185.9 L301.5,1186.6 L304.5,1187.2 L307.5,1187.8 L310.5,1188.4 L313.5,1189.0 L316.5,1189.6 L319.5,1190.2 L322.5,1190.8 L325.5,1191.4 L328.5,1191.9 L331.5,1192.5 L334.5,1193.1 L337.5,1193.8 L340.5,1194.4 L343.5,1195.0 L346.5,1195.6 L349.5,1196.3 L352.5,1196.9 L355.5,1197.6 L358.5,1198.2 L361.5,1198.9 L364.5,1199.5 L367.5,1200.1 L370.5,1200.8 L373.5,1201.4 L376.5,1201.9 L379.5,1202.5 L382.5,1203.1 L385.5,1203.6 L388.5,1204.1 L391.5,1204.6 L394.5,1205.0 L397.5,1205.4 L400.5,1205.7 L403.5,1206.0 L406.5,1206.3 L409.5,1206.5 L412.5,1206.7 L415.5,1206.8 L418.5,1206.9 L421.5,1206.9 L424.5,1206.8 L427.5,1206.7 L430.5,1206.5 L433.5,1206.2 L436.5,1205.9 L439.5,1205.5 L442.5,1205.0 L445.5,1204.4 L448.5,1203.8 L451.5,1203.1 L454.5,1202.3 L457.5,1201.4 L460.5,1200.6 L463.5,1199.6 L466.5,1198.6 L469.5,1197.6 L472.5,1196.5 L475.5,1195.4 L478.5,1194.3 L481.5,1193.2 L484.5,1192.0 L487.5,1190.9 L490.5,1189.7 L493.5,1188.5 L496.5,1187.4 L499.5,1186.2 L502.5,1185.0 L505.5,1183.9 L508.5,1182.7 L511.5,1181.5 L514.5,1180.3 L517.5,1179.0 L520.5,1177.8 L523.5,1176.5 L526.5,1175.1 L529.5,1173.8 L532.5,1172.4 L535.5,1171.0 L538.5,1169.5 L541.5,1167.9 L544.5,1166.4 L547.5,1164.7 L550.5,1163.0 L553.5,1161.3 L556.5,1159.5 L559.5,1157.6 L562.5,1155.7 L565.5,1153.8 L568.5,1151.8 L571.5,1149.8 L574.5,1147.8 L577.5,1145.8 L580.5,1143.8 L583.5,1141.7 L586.5,1139.7 L589.5,1137.7 L592.5,1135.6 L595.5,1133.6 L598.5,1131.6 L601.5,1129.6 L604.5,1127.5 L607.5,1125.5 L610.5,1123.4 L613.5,1121.3 L616.5,1119.2 L619.5,1117.0 L622.5,1114.8 L625.5,1112.6 L628.5,1110.3 L631.5,1108.0 L634.5,1105.7 L637.5,1103.4 L640.5,1101.1 L643.5,1098.8 L646.5,1096.4 L649.5,1094.1 L652.5,1091.7 L655.5,1089.4 L658.5,1087.0 L661.5,1084.6 L664.5,1082.3 L667.5,1079.9 L670.5,1077.5 L673.5,1075.2 L676.5,1072.8 L679.5,1070.4 L682.5,1068.1 L685.5,1065.7 L688.5,1063.4 L691.5,1061.0 L694.5,1058.7 L697.5,1056.4 L700.5,1054.0 L703.5,1051.7 L706.5,1049.5 L709.5,1047.2 L712.5,1044.9 L715.5,1042.7 L718.5,1040.4 L721.5,1038.2 L724.5,1036.0 L727.5,1033.8 L730.5,1031.7 L733.5,1029.5 L736.5,1027.4 L739.5,1025.3 L742.5,1023.3 L745.5,1021.2 L748.5,1019.2 L751.5,1017.2 L754.5,1015.3 L757.5,1013.3 L760.5,1011.4 L763.5,1009.6 L766.5,1007.7 L769.5,1005.9 L772.5,1004.1 L775.5,1002.3 L778.5,1000.6 L781.5,998.9 L784.5,997.2 L787.5,995.5 L790.5,993.8 L793.5,992.2 L796.5,990.6 L799.5,989.0 L802.5,987.4 L805.5,985.9 L808.5,984.3 L811.5,982.8 L814.5,981.3 L817.5,979.8 L820.5,978.4 L823.5,976.9 L826.5,975.5 L829.5,974.0 L832.5,972.6 L835.5,971.2 L838.5,969.8 L841.5,968.4 L844.5,967.1 L847.5,965.7 L850.5,964.3 L853.5,963.0 L856.5,961.6 L859.5,960.3 L862.5,958.9 L865.5,957.6 L868.5,956.3 L871.5,955.0 L874.5,953.6 L877.5,952.3 L880.5,951.0 L883.5,949.7 L886.5,948.4 L889.5,947.1 L892.5,945.8 L895.5,944.5 L898.5,943.3 L901.5,942.0 L904.5,940.7 L907.5,939.5 L910.5,938.2 L913.5,937.0 L916.5,935.8 L919.5,934.6 L922.5,933.4 L925.5,932.2 L928.5,931.0 L931.5,929.9 L934.5,928.7 L937.5,927.6 L940.5,926.5 L943.5,925.3 L946.5,924.3 L949.5,923.2 L952.5,922.1 L955.5,921.1 L958.5,920.0 L961.5,919.0 L964.5,918.0 L967.5,917.1 L970.5,916.1 L973.5,915.2 L976.5,914.3 L979.5,913.4 L982.5,912.5 L985.5,911.6 L988.5,910.8 L991.5,910.0 L994.5,909.2 L997.5,908.4 L1000.5,907.7 L1003.5,906.9 L1006.5,906.2 L1009.5,905.6 L1012.5,904.9 L1015.5,904.3 L1018.5,903.7 L1021.5,903.2 L1024.5,902.6 L1027.5,902.1 L1030.5,901.7 L1033.5,901.3 L1036.5,900.9 L1039.5,900.5 L1042.5,900.2 L1045.5,899.9 L1048.5,899.7 L1051.5,899.5 L1054.5,899.3 L1057.5,899.2 L1060.5,899.1 L1063.5,899.1 L1066.5,899.1 L1069.5,899.2 L1072.5,899.3 L1075.5,899.5 L1078.5,899.7 L1081.5,900.0 L1084.5,900.3 L1087.5,900.6 L1090.5,901.1 L1093.5,901.6 L1096.5,902.1 L1099.5,902.7 L1102.5,903.3 L1105.5,904.1 L1108.5,904.8 L1111.5,905.7 L1114.5,906.6 L1117.5,907.5 L1120.5,908.5 L1123.5,909.6 L1126.5,910.8 L1129.5,912.0 L1132.5,913.3 L1135.5,914.6 L1138.5,916.0 L1141.5,917.5 L1144.5,919.0 L1147.5,920.6 L1150.5,922.2 L1153.5,923.9 L1156.5,925.7 L1159.5,927.5 L1162.5,929.4 L1165.5,931.3 L1168.5,933.3 L1171.5,935.4 L1174.5,937.5 L1177.5,939.6 L1180.5,941.8 L1183.5,944.1 L1186.5,946.4 L1189.5,948.7 L1192.5,951.1 L1195.5,953.6 L1198.5,956.1 L1201.5,958.7 L1204.5,961.3 L1207.5,963.9 L1210.5,966.7 L1213.5,969.4 L1216.5,972.2 L1219.5,975.1 L1222.5,977.9 L1225.5,980.9 L1228.5,983.9 L1231.5,986.9 L1234.5,989.9 L1237.5,993.0 L1240.5,996.2 L1243.5,999.3 L1246.5,1002.5 L1249.5,1005.7 L1252.5,1009.0 L1255.5,1012.3 L1258.5,1015.6 L1261.5,1018.9 L1264.5,1022.2 L1267.5,1025.6 L1270.5,1028.9 L1273.5,1032.3 L1276.5,1035.7 L1279.5,1039.2 L1282.5,1042.6 L1285.5,1046.0 L1288.5,1049.4 L1291.5,1052.9 L1294.5,1056.3 L1297.5,1059.8 L1300.5,1063.2 L1303.5,1066.6 L1306.5,1070.1 L1309.5,1073.5 L1312.5,1076.9 L1315.5,1080.3 L1318.5,1083.7 L1321.5,1087.1 L1324.5,1090.4 L1327.5,1093.8 L1330.5,1097.1 L1333.5,1100.4 L1336.5,1103.7 L1339.5,1106.9 L1342.5,1110.2 L1345.5,1113.4 L1348.5,1116.5 L1351.5,1119.7 L1354.5,1122.8 L1357.5,1125.8 L1360.5,1128.8 L1363.5,1131.8 L1366.5,1134.8 L1369.5,1137.7 L1372.5,1140.5 L1375.5,1143.3 L1378.5,1146.1 L1381.5,1148.8 L1384.5,1151.5 L1387.5,1154.2 L1390.5,1156.8 L1393.5,1159.3 L1396.5,1161.9 L1399.5,1164.3 L1402.5,1166.8 L1405.5,1169.2 L1408.5,1171.5 L1411.5,1173.8 L1414.5,1176.1 L1417.5,1178.3 L1420.5,1180.5 L1423.5,1182.6 L1426.5,1184.7 L1429.5,1186.7 L1432.5,1188.7 L1435.5,1190.7 L1438.5,1192.6 L1441.5,1194.5 L1444.5,1196.3 L1447.5,1198.1 L1450.5,1199.8 L1453.5,1201.5 L1456.5,1203.2 L1459.5,1204.8 L1462.5,1206.3 L1465.5,1207.8 L1468.5,1209.3 L1471.5,1210.7 L1474.5,1212.1 L1477.5,1213.5 L1480.5,1214.8 L1483.5,1216.0 L1486.5,1217.2 L1489.5,1218.4 L1492.5,1219.5 L1495.5,1220.5 L1498.5,1221.6 L1501.5,1222.6 L1504.5,1223.5 L1507.5,1224.5 L1510.5,1225.4 L1513.5,1226.3 L1516.5,1227.1 L1519.5,1228.0 L1522.5,1228.8 L1525.5,1229.7 L1528.5,1230.5 L1531.5,1231.3 L1534.5,1232.1 L1537.5,1232.8 L1540.5,1233.6 L1543.5,1234.4 L1546.5,1235.1 L1549.5,1235.8 L1552.5,1236.5 L1555.5,1237.2 L1558.5,1237.9 L1561.5,1238.5 L1564.5,1239.1 L1567.5,1239.7 L1570.5,1240.3 L1573.5,1240.9 L1576.5,1241.4 L1579.5,1241.9 L1582.5,1242.4 L1585.5,1242.9 L1588.5,1243.3 L1591.5,1243.8 L1594.5,1244.2 L1597.5,1244.6 L1600.5,1245.0 L1603.5,1245.4 L1606.5,1245.8 L1609.5,1246.1 L1612.5,1246.5 L1615.5,1246.8 L1618.5,1247.1 L1621.5,1247.4 L1624.5,1247.6 L1627.5,1247.9 L1630.5,1248.2 L1633.5,1248.4 L1636.5,1248.6 L1639.5,1248.8 L1642.5,1249.0 L1645.5,1249.2 L1648.5,1249.4 L1651.5,1249.6 L1654.5,1249.7 L1657.5,1249.9 L1660.5,1250.0 L1663.5,1250.1 L1666.5,1250.2 L1669.5,1250.3 L1672.5,1250.4 L1675.5,1250.5 L1678.5,1250.6 L1681.5,1250.6 L1684.5,1250.7 L1687.5,1250.7 L1690.5,1250.8 L1693.5,1250.8 L1696.5,1250.8 L1699.5,1250.9 L1702.5,1250.9 L1705.5,1250.9 L1708.5,1250.9 L1711.5,1250.9 L1714.5,1250.9 L1717.5,1250.9 L1720.5,1250.8 L1723.5,1250.8 L1726.5,1250.8 L1729.5,1250.7 L1732.5,1250.7 L1735.5,1250.7 L1738.5,1250.6 L1741.5,1250.6 L1744.5,1250.5 L1747.5,1250.5 L1750.5,1250.4 L1753.5,1250.4 L1756.5,1250.3 L1759.5,1250.2 L1762.5,1250.2 L1765.5,1250.1 L1768.5,1250.0 L1771.5,1250.0 L1774.5,1249.9 L1777.5,1249.9 L1780.5,1249.8 L1783.5,1249.7 L1786.5,1249.7 L1789.5,1249.6 L1792.5,1249.6 L1795.5,1249.5 L1798.5,1249.5 L1801.5,1249.4 L1802.0,1249.4 L1808.0,1249.4" stroke="#0000ff" stroke-width="6"/>
<path d="M232.5,1185.9 L238.5,1187.1 L241.5,1187.7 L244.5,1188.3 L247.5,1188.8 L250.5,1189.4 L253.5,1190.0 L256.5,1190.6 L259.5,1191.1 L262.5,1191.7 L265.5,1192.2 L268.5,1192.8 L271.5,1193.3 L274.5,1193.9 L277.5,1194.4 L280.5,1195.0 L283.5,1195.5 L286.5,1196.0 L289.5,1196.5 L292.5,1197.0 L295.5,1197.5 L298.5,1198.0 L301.5,1198.4 L304.5,1198.9 L307.5,1199.3 L310.5,1199.8 L313.5,1200.2 L316.5,1200.6 L319.5,1201.0 L322.5,1201.4 L325.5,1201.8 L328.5,1202.1 L331.5,1202.5 L334.5,1202.8 L337.5,1203.1 L340.5,1203.4 L343.5,1203.7 L346.5,1204.0 L349.5,1204.2 L352.5,1204.4 L355.5,1204.6 L358.5,1204.8 L361.5,1205.0 L364.5,1205.1 L367.5,1205.3 L370.5,1205.4 L373.5,1205.5 L376.5,1205.5 L379.5,1205.6 L382.5,1205.6 L385.5,1205.6 L388.5,1205.6 L391.5,1205.5 L394.5,1205.5 L397.5,1205.4 L400.5,1205.2 L403.5,1205.1 L406.5,1204.9 L409.5,1204.7 L412.5,1204.5 L415.5,1204.2 L418.5,1203.9 L421.5,1203.6 L424.5,1203.3 L427.5,1202.9 L430.5,1202.5 L433.5,1202.0 L436.5,1201.6 L439.5,1201.1 L442.5,1200.5 L445.5,1200.0 L448.5,1199.4 L451.5,1198.8 L454.5,1198.1 L457.5,1197.4 L460.5,1196.7 L463.5,1196.0 L466.5,1195.2 L469.5,1194.4 L472.5,1193.6 L475.5,1192.7 L478.5,1191.9 L481.5,1191.0 L484.5,1190.1 L487.5,1189.1 L490.5,1188.2 L493.5,1187.2 L496.5,1186.2 L499.5,1185.2 L502.5,1184.1 L505.5,1183.1 L508.5,1182.0 L511.5,1180.9 L514.5,1179.8 L517.5,1178.7 L520.5,1177.5 L523.5,1176.4 L526.5,1175.2 L529.5,1174.0 L532.5,1172.9 L535.5,1171.7 L538.5,1170.5 L541.5,1169.2 L544.5,1168.0 L547.5,1166.8 L550.5,1165.5 L553.5,1164.3 L556.5,1163.0 L559.5,1161.8 L562.5,1160.5 L565.5,1159.2 L568.5,1157.9 L571.5,1156.7 L574.5,1155.4 L577.5,1154.1 L580.5,1152.8 L583.5,1151.5 L586.5,1150.2 L589.5,1148.8 L592.5,1147.5 L595.5,1146.2 L598.5,1144.9 L601.5,1143.6 L604.5,1142.4 L607.5,1141.1 L610.5,1139.8 L613.5,1138.6 L616.5,1137.4 L619.5,1136.2 L622.5,1135.0 L625.5,1133.8 L628.5,1132.7 L631.5,1131.6 L634.5,1130.4 L637.5,1129.3 L640.5,1128.2 L643.5,1127.2 L646.5,1126.1 L649.5,1125.0 L652.5,1124.0 L655.5,1123.0 L658.5,1121.9 L661.5,1120.9 L664.5,1119.9 L667.5,1118.9 L670.5,1118.0 L673.5,1117.0 L676.5,1116.1 L679.5,1115.1 L682.5,1114.2 L685.5,1113.3 L688.5,1112.4 L691.5,1111.5 L694.5,1110.7 L697.5,1109.8 L700.5,1109.0 L703.5,1108.1 L706.5,1107.3 L709.5,1106.5 L712.5,1105.7 L715.5,1105.0 L718.5,1104.2 L721.5,1103.5 L724.5,1102.8 L727.5,1102.0 L730.5,1101.3 L733.5,1100.7 L736.5,1100.0 L739.5,1099.3 L742.5,1098.7 L745.5,1098.1 L748.5,1097.4 L751.5,1096.8 L754.5,1096.3 L757.5,1095.7 L760.5,1095.1 L763.5,1094.6 L766.5,1094.0 L769.5,1093.5 L772.5,1093.0 L775.5,1092.4 L778.5,1091.9 L781.5,1091.5 L784.5,1091.0 L787.5,1090.5 L790.5,1090.1 L793.5,1089.6 L796.5,1089.2 L799.5,1088.8 L802.5,1088.3 L805.5,1087.9 L808.5,1087.5 L811.5,1087.2 L814.5,1086.8 L817.5,1086.4 L820.5,1086.0 L823.5,1085.7 L826.5,1085.3 L829.5,1085.0 L832.5,1084.7 L835.5,1084.4 L838.5,1084.0 L841.5,1083.7 L844.5,1083.4 L847.5,1083.2 L850.5,1082.9 L853.5,1082.6 L856.5,1082.3 L859.5,1082.0 L862.5,1081.8 L865.5,1081.5 L868.5,1081.3 L871.5,1081.0 L874.5,1080.8 L877.5,1080.6 L880.5,1080.3 L883.5,1080.1 L886.5,1079.9 L889.5,1079.7 L892.5,1079.5 L895.5,1079.3 L898.5,1079.1 L901.5,1078.9 L904.5,1078.7 L907.5,1078.6 L910.5,1078.4 L913.5,1078.2 L916.5,1078.1 L919.5,1077.9 L922.5,1077.8 L925.5,1077.7 L928.5,1077.6 L931.5,1077.5 L934.5,1077.4 L937.5,1077.3 L940.5,1077.2 L943.5,1077.1 L946.5,1077.1 L949.5,1077.0 L952.5,1077.0 L955.5,1077.0 L958.5,1077.0 L961.5,1077.0 L964.5,1077.0 L967.5,1077.0 L970.5,1077.0 L973.5,1077.1 L976.5,1077.2 L979.5,1077.2 L982.5,1077.3 L985.5,1077.4 L988.5,1077.6 L991.5,1077.7 L994.5,1077.9 L997.5,1078.0 L1000.5,1078.2 L1003.5,1078.4 L1006.5,1078.6 L1009.5,1078.9 L1012.5,1079.1 L1015.5,1079.4 L1018.5,1079.7 L1021.5,1080.0 L1024.5,1080.3 L1027.5,1080.6 L1030.5,1081.0 L1033.5,1081.4 L1036.5,1081.8 L1039.5,1082.2 L1042.5,1082.6 L1045.5,1083.0 L1048.5,1083.5 L1051.5,1084.0 L1054.5,1084.5 L1057.5,1085.0 L1060.5,1085.6 L1063.5,1086.1 L1066.5,1086.7 L1069.5,1087.3 L1072.5,1087.9 L1075.5,1088.5 L1078.5,1089.2 L1081.5,1089.9 L1084.5,1090.5 L1087.5,1091.2 L1090.5,1092.0 L1093.5,1092.7 L1096.5,1093.5 L1099.5,1094.3 L1102.5,1095.1 L1105.5,1095.9 L1108.5,1096.7 L1111.5,1097.6 L1114.5,1098.5 L1117.5,1099.4 L1120.5,1100.3 L1123.5,1101.2 L1126.5,1102.2 L1129.5,1103.2 L1132.5,1104.2 L1135.5,1105.2 L1138.5,1106.2 L1141.5,1107.3 L1144.5,1108.3 L1147.5,1109.4 L1150.5,1110.6 L1153.5,1111.7 L1156.5,1112.8 L1159.5,1114.0 L1162.5,1115.2 L1165.5,1116.4 L1168.5,1117.7 L1171.5,1118.9 L1174.5,1120.2 L1177.5,1121.4 L1180.5,1122.7 L1183.5,1124.0 L1186.5,1125.4 L1189.5,1126.7 L1192.5,1128.0 L1195.5,1129.4 L1198.5,1130.8 L1201.5,1132.1 L1204.5,1133.5 L1207.5,1134.9 L1210.5,1136.3 L1213.5,1137.8 L1216.5,1139.2 L1219.5,1140.6 L1222.5,1142.1 L1225.5,1143.5 L1228.5,1145.0 L1231.5,1146.4 L1234.5,1147.9 L1237.5,1149.4 L1240.5,1150.8 L1243.5,1152.3 L1246.5,1153.8 L1249.5,1155.3 L1252.5,1156.7 L1255.5,1158.2 L1258.5,1159.7 L1261.5,1161.2 L1264.5,1162.7 L1267.5,1164.1 L1270.5,1165.6 L1273.5,1167.1 L1276.5,1168.6 L1279.5,1170.0 L1282.5,1171.5 L1285.5,1173.0 L1288.5,1174.4 L1291.5,1175.9 L1294.5,1177.3 L1297.5,1178.8 L1300.5,1180.2 L1303.5,1181.6 L1306.5,1183.0 L1309.5,1184.4 L1312.5,1185.8 L1315.5,1187.2 L1318.5,1188.6 L1321.5,1190.0 L1324.5,1191.3 L1327.5,1192.7 L1330.5,1194.0 L1333.5,1195.3 L1336.5,1196.6 L1339.5,1197.9 L1342.5,1199.2 L1345.5,1200.5 L1348.5,1201.7 L1351.5,1202.9 L1354.5,1204.1 L1357.5,1205.3 L1360.5,1206.5 L1363.5,1207.7 L1366.5,1208.8 L1369.5,1209.9 L1372.5,1211.0 L1375.5,1212.1 L1378.5,1213.2 L1381.5,1214.2 L1384.5,1215.2 L1387.5,1216.2 L1390.5,1217.2 L1393.5,1218.2 L1396.5,1219.1 L1399.5,1220.0 L1402.5,1220.9 L1405.5,1221.8 L1408.5,1222.6 L1411.5,1223.5 L1414.5,1224.3 L1417.5,1225.1 L1420.5,1225.9 L1423.5,1226.6 L1426.5,1227.4 L1429.5,1228.1 L1432.5,1228.8 L1435.5,1229.5 L1438.5,1230.1 L1441.5,1230.8 L1444.5,1231.4 L1447.5,1232.0 L1450.5,1232.6 L1453.5,1233.2 L1456.5,1233.8 L1459.5,1234.3 L1462.5,1234.9 L1465.5,1235.4 L1468.5,1235.9 L1471.5,1236.4 L1474.5,1236.8 L1477.5,1237.3 L1480.5,1237.7 L1483.5,1238.2 L1486.5,1238.6 L1489.5,1239.0 L1492.5,1239.4 L1495.5,1239.7 L1498.5,1240.1 L1501.5,1240.4 L1504.5,1240.7 L1507.5,1241.0 L1510.5,1241.3 L1513.5,1241.6 L1516.5,1241.9 L1519.5,1242.1 L1522.5,1242.4 L1525.5,1242.6 L1528.5,1242.9 L1531.5,1243.1 L1534.5,1243.4 L1537.5,1243.6 L1540.5,1243.8 L1543.5,1244.1 L1546.5,1244.3 L1549.5,1244.5 L1552.5,1244.7 L1555.5,1244.9 L1558.5,1245.1 L1561.5,1245.3 L1564.5,1245.5 L1567.5,1245.7 L1570.5,1245.9 L1573.5,1246.0 L1576.5,1246.2 L1579.5,1246.4 L1582.5,1246.5 L1585.5,1246.7 L1588.5,1246.8 L1591.5,1246.9 L1594.5,1247.1 L1597.5,1247.2 L1600.5,1247.3 L1603.5,1247.4 L1606.5,1247.5 L1609.5,1247.6 L1612.5,1247.7 L1615.5,1247.8 L1618.5,1247.9 L1621.5,1248.0 L1624.5,1248.0 L1627.5,1248.1 L1630.5,1248.2 L1633.5,1248.2 L1636.5,1248.3 L1639.5,1248.4 L1642.5,1248.4 L1645.5,1248.5 L1648.5,1248.5 L1651.5,1248.6 L1654.5,1248.6 L1657.5,1248.6 L1660.5,1248.7 L1663.5,1248.7 L1666.5,1248.7 L1669.5,1248.7 L1672.5,1248.8 L1675.5,1248.8 L1678.5,1248.8 L1681.5,1248.8 L1684.5,1248.8 L1687.5,1248.8 L1690.5,1248.9 L1693.5,1248.9 L1696.5,1248.9 L1699.5,1248.9 L1702.5,1248.9 L1705.5,1248.9 L1708.5,1248.9 L1711.5,1248.9 L1714.5,1248.9 L1717.5,1248.9 L1720.5,1248.9 L1723.5,1248.9 L1726.5,1248.9 L1729.5,1248.9 L1732.5,1248.9 L1735.5,1248.9 L1738.5,1248.9 L1741.5,1248.9 L1744.5,1248.9 L1747.5,1248.9 L1750.5,1248.9 L1753.5,1248.9 L1756.5,1248.9 L1759.5,1248.9 L1762.5,1248.9 L1765.5,1248.9 L1768.5,1248.9 L1771.5,1248.9 L1774.5,1248.9 L1777.5,1248.9 L1780.5,1248.9 L1783.5,1248.9 L1786.5,1248.9 L1789.5,1249.0 L1792.5,1249.0 L1795.5,1249.0 L1798.5,1249.0 L1801.5,1249.1 L1802.0,1249.1 L1808.0,1249.1" stroke="#00ffff" stroke-width="6"/>
<path d="M232.5,1200.8 L238.5,1201.8 L241.5,1202.3 L244.5,1202.8 L247.5,1203.3 L250.5,1203.7 L253.5,1204.1 L256.5,1204.6 L259.5,1205.0 L262.5,1205.3 L265.5,1205.7 L268.5,1206.1 L271.5,1206.4 L274.5,1206.8 L277.5,1207.1 L280.5,1207.4 L283.5,1207.7 L286.5,1208.0 L289.5,1208.3 L292.5,1208.6 L295.5,1208.8 L298.5,1209.1 L301.5,1209.3 L304.5,1209.6 L307.5,1209.8 L310.5,1210.0 L313.5,1210.2 L316.5,1210.5 L319.5,1210.7 L322.5,1210.9 L325.5,1211.1 L328.5,1211.3 L331.5,1211.5 L334.5,1211.7 L337.5,1211.9 L340.5,1212.1 L343.5,1212.3 L346.5,1212.5 L349.5,1212.7 L352.5,1212.9 L355.5,1213.0 L358.5,1213.2 L361.5,1213.4 L364.5,1213.6 L367.5,1213.8 L370.5,1213.9 L373.5,1214.1 L376.5,1214.3 L379.5,1214.4 L382.5,1214.5 L385.5,1214.7 L388.5,1214.8 L391.5,1214.9 L394.5,1214.9 L397.5,1215.0 L400.5,1215.1 L403.5,1215.1 L406.5,1215.1 L409.5,1215.1 L412.5,1215.1 L415.5,1215.0 L418.5,1215.0 L421.5,1214.9 L424.5,1214.8 L427.5,1214.6 L430.5,1214.5 L433.5,1214.3 L436.5,1214.0 L439.5,1213.8 L442.5,1213.5 L445.5,1213.2 L448.5,1212.9 L451.5,1212.5 L454.5,1212.1 L457.5,1211.7 L460.5,1211.2 L463.5,1210.7 L466.5,1210.2 L469.5,1209.7 L472.5,1209.1 L475.5,1208.5 L478.5,1207.9 L481.5,1207.2 L484.5,1206.5 L487.5,1205.9 L490.5,1205.2 L493.5,1204.4 L496.5,1203.7 L499.5,1202.9 L502.5,1202.2 L505.5,1201.4 L508.5,1200.6 L511.5,1199.8 L514.5,1199.0 L517.5,1198.1 L520.5,1197.3 L523.5,1196.5 L526.5,1195.6 L529.5,1194.8 L532.5,1193.9 L535.5,1193.1 L538.5,1192.2 L541.5,1191.4 L544.5,1190.5 L547.5,1189.7 L550.5,1188.9 L553.5,1188.0 L556.5,1187.2 L559.5,1186.4 L562.5,1185.6 L565.5,1184.8 L568.5,1184.0 L571.5,1183.3 L574.5,1182.5 L577.5,1181.8 L580.5,1181.1 L583.5,1180.5 L586.5,1179.8 L589.5,1179.2 L592.5,1178.7 L595.5,1178.2 L598.5,1177.6 L601.5,1177.2 L604.5,1176.7 L607.5,1176.2 L610.5,1175.7 L613.5,1175.3 L616.5,1174.8 L619.5,1174.3 L622.5,1173.9 L625.5,1173.4 L628.5,1172.9 L631.5,1172.5 L634.5,1172.0 L637.5,1171.6 L640.5,1171.2 L643.5,1170.8 L646.5,1170.4 L649.5,1170.0 L652.5,1169.7 L655.5,1169.3 L658.5,1168.9 L661.5,1168.6 L664.5,1168.3 L667.5,1167.9 L670.5,1167.6 L673.5,1167.3 L676.5,1167.0 L679.5,1166.7 L682.5,1166.4 L685.5,1166.2 L688.5,1165.9 L691.5,1165.7 L694.5,1165.4 L697.5,1165.2 L700.5,1164.9 L703.5,1164.7 L706.5,1164.5 L709.5,1164.3 L712.5,1164.1 L715.5,1163.9 L718.5,1163.7 L721.5,1163.5 L724.5,1163.3 L727.5,1163.1 L730.5,1163.0 L733.5,1162.8 L736.5,1162.6 L739.5,1162.5 L742.5,1162.3 L745.5,1162.2 L748.5,1162.0 L751.5,1161.9 L754.5,1161.8 L757.5,1161.6 L760.5,1161.5 L763.5,1161.4 L766.5,1161.3 L769.5,1161.1 L772.5,1161.0 L775.5,1160.9 L778.5,1160.8 L781.5,1160.7 L784.5,1160.6 L787.5,1160.5 L790.5,1160.4 L793.5,1160.2 L796.5,1160.1 L799.5,1160.0 L802.5,1159.9 L805.5,1159.8 L808.5,1159.7 L811.5,1159.6 L814.5,1159.5 L817.5,1159.4 L820.5,1159.2 L823.5,1159.1 L826.5,1159.0 L829.5,1158.9 L832.5,1158.8 L835.5,1158.6 L838.5,1158.5 L841.5,1158.4 L844.5,1158.3 L847.5,1158.2 L850.5,1158.0 L853.5,1157.9 L856.5,1157.8 L859.5,1157.7 L862.5,1157.5 L865.5,1157.4 L868.5,1157.3 L871.5,1157.2 L874.5,1157.1 L877.5,1157.0 L880.5,1156.9 L883.5,1156.7 L886.5,1156.6 L889.5,1156.5 L892.5,1156.4 L895.5,1156.4 L898.5,1156.3 L901.5,1156.2 L904.5,1156.1 L907.5,1156.0 L910.5,1156.0 L913.5,1155.9 L916.5,1155.8 L919.5,1155.8 L922.5,1155.7 L925.5,1155.7 L928.5,1155.6 L931.5,1155.6 L934.5,1155.6 L937.5,1155.6 L940.5,1155.5 L943.5,1155.5 L946.5,1155.5 L949.5,1155.6 L952.5,1155.6 L955.5,1155.6 L958.5,1155.6 L961.5,1155.7 L964.5,1155.7 L967.5,1155.8 L970.5,1155.9 L973.5,1155.9 L976.5,1156.0 L979.5,1156.1 L982.5,1156.2 L985.5,1156.4 L988.5,1156.5 L991.5,1156.6 L994.5,1156.8 L997.5,1157.0 L1000.5,1157.1 L1003.5,1157.3 L1006.5,1157.5 L1009.5,1157.7 L1012.5,1158.0 L1015.5,1158.2 L1018.5,1158.4 L1021.5,1158.7 L1024.5,1159.0 L1027.5,1159.3 L1030.5,1159.5 L1033.5,1159.8 L1036.5,1160.1 L1039.5,1160.5 L1042.5,1160.8 L1045.5,1161.1 L1048.5,1161.5 L1051.5,1161.8 L1054.5,1162.2 L1057.5,1162.6 L1060.5,1163.0 L1063.5,1163.4 L1066.5,1163.8 L1069.5,1164.2 L1072.5,1164.6 L1075.5,1165.0 L1078.5,1165.5 L1081.5,1165.9 L1084.5,1166.4 L1087.5,1166.8 L1090.5,1167.3 L1093.5,1167.8 L1096.5,1168.3 L1099.5,1168.7 L1102.5,1169.2 L1105.5,1169.7 L1108.5,1170.3 L1111.5,1170.8 L1114.5,1171.3 L1117.5,1171.8 L1120.5,1172.4 L1123.5,1172.9 L1126.5,1173.5 L1129.5,1174.0 L1132.5,1174.6 L1135.5,1175.1 L1138.5,1175.7 L1141.5,1176.3 L1144.5,1176.9 L1147.5,1177.4 L1150.5,1178.0 L1153.5,1178.6 L1156.5,1179.2 L1159.5,1179.8 L1162.5,1180.4 L1165.5,1181.0 L1168.5,1181.7 L1171.5,1182.3 L1174.5,1182.9 L1177.5,1183.5 L1180.5,1184.2 L1183.5,1184.8 L1186.5,1185.4 L1189.5,1186.1 L1192.5,1186.7 L1195.5,1187.3 L1198.5,1188.0 L1201.5,1188.6 L1204.5,1189.3 L1207.5,1189.9 L1210.5,1190.6 L1213.5,1191.2 L1216.5,1191.9 L1219.5,1192.6 L1222.5,1193.2 L1225.5,1193.9 L1228.5,1194.5 L1231.5,1195.2 L1234.5,1195.9 L1237.5,1196.5 L1240.5,1197.2 L1243.5,1197.9 L1246.5,1198.5 L1249.5,1199.2 L1252.5,1199.8 L1255.5,1200.5 L1258.5,1201.2 L1261.5,1201.8 L1264.5,1202.5 L1267.5,1203.1 L1270.5,1203.8 L1273.5,1204.5 L1276.5,1205.1 L1279.5,1205.8 L1282.5,1206.4 L1285.5,1207.1 L1288.5,1207.7 L1291.5,1208.4 L1294.5,1209.0 L1297.5,1209.7 L1300.5,1210.3 L1303.5,1210.9 L1306.5,1211.6 L1309.5,1212.2 L1312.5,1212.8 L1315.5,1213.5 L1318.5,1214.1 L1321.5,1214.7 L1324.5,1215.3 L1327.5,1215.9 L1330.5,1216.5 L1333.5,1217.1 L1336.5,1217.7 L1339.5,1218.3 L1342.5,1218.9 L1345.5,1219.5 L1348.5,1220.1 L1351.5,1220.6 L1354.5,1221.2 L1357.5,1221.8 L1360.5,1222.3 L1363.5,1222.9 L1366.5,1223.4 L1369.5,1224.0 L1372.5,1224.5 L1375.5,1225.0 L1378.5,1225.5 L1381.5,1226.1 L1384.5,1226.6 L1387.5,1227.1 L1390.5,1227.6 L1393.5,1228.0 L1396.5,1228.5 L1399.5,1229.0 L1402.5,1229.5 L1405.5,1229.9 L1408.5,1230.4 L1411.5,1230.8 L1414.5,1231.2 L1417.5,1231.7 L1420.5,1232.1 L1423.5,1232.5 L1426.5,1232.9 L1429.5,1233.3 L1432.5,1233.7 L1435.5,1234.0 L1438.5,1234.4 L1441.5,1234.7 L1444.5,1235.1 L1447.5,1235.4 L1450.5,1235.7 L1453.5,1236.1 L1456.5,1236.4 L1459.5,1236.7 L1462.5,1236.9 L1465.5,1237.2 L1468.5,1237.5 L1471.5,1237.7 L1474.5,1238.0 L1477.5,1238.2 L1480.5,1238.4 L1483.5,1238.6 L1486.5,1238.8 L1489.5,1239.0 L1492.5,1239.1 L1495.5,1239.3 L1498.5,1239.4 L1501.5,1239.5 L1504.5,1239.6 L1507.5,1239.8 L1510.5,1239.9 L1513.5,1240.0 L1516.5,1240.1 L1519.5,1240.2 L1522.5,1240.3 L1525.5,1240.4 L1528.5,1240.5 L1531.5,1240.6 L1534.5,1240.7 L1537.5,1240.8 L1540.5,1240.9 L1543.5,1241.1 L1546.5,1241.2 L1549.5,1241.3 L1552.5,1241.4 L1555.5,1241.5 L1558.5,1241.6 L1561.5,1241.7 L1564.5,1241.8 L1567.5,1241.9 L1570.5,1242.0 L1573.5,1242.1 L1576.5,1242.2 L1579.5,1242.3 L1582.5,1242.4 L1585.5,1242.4 L1588.5,1242.5 L1591.5,1242.6 L1594.5,1242.7 L1597.5,1242.7 L1600.5,1242.8 L1603.5,1242.8 L1606.5,1242.9 L1609.5,1243.0 L1612.5,1243.0 L1615.5,1243.1 L1618.5,1243.1 L1621.5,1243.1 L1624.5,1243.2 L1627.5,1243.2 L1630.5,1243.3 L1633.5,1243.3 L1636.5,1243.3 L1639.5,1243.4 L1642.5,1243.4 L1645.5,1243.4 L1648.5,1243.5 L1651.5,1243.5 L1654.5,1243.5 L1657.5,1243.5 L1660.5,1243.5 L1663.5,1243.6 L1666.5,1243.6 L1669.5,1243.6 L1672.5,1243.6 L1675.5,1243.6 L1678.5,1243.6 L1681.5,1243.7 L1684.5,1243.7 L1687.5,1243.7 L1690.5,1243.7 L1693.5,1243.7 L1696.5,1243.7 L1699.5,1243.7 L1702.5,1243.7 L1705.5,1243.7 L1708.5,1243.7 L1711.5,1243.7 L1714.5,1243.7 L1717.5,1243.8 L1720.5,1243.8 L1723.5,1243.8 L1726.5,1243.8 L1729.5,1243.8 L1732.5,1243.8 L1735.5,1243.8 L1738.5,1243.8 L1741.5,1243.8 L1744.5,1243.8 L1747.5,1243.8 L1750.5,1243.8 L1753.5,1243.8 L1756.5,1243.8 L1759.5,1243.8 L1762.5,1243.8 L1765.5,1243.9 L1768.5,1243.9 L1771.5,1243.9 L1774.5,1243.9 L1777.5,1243.9 L1780.5,1243.9 L1783.5,1243.9 L1786.5,1243.9 L1789.5,1244.0 L1792.5,1244.0 L1795.5,1244.0 L1798.5,1244.0 L1801.5,1244.1 L1802.0,1244.1 L1808.0,1244.1" stroke="#ff00ff" stroke-width="6"/>
</g>
<g id="legend">
<rect x="1283.3" y="38.2" width="597.2" height="461.8" fill="#fff" stroke="#000" stroke-width="3"/>
<line x1="1315.5" x2="1468" y1="90.9" y2="90.9" stroke="#000000" stroke-width="6.2"/>
<text font-size="63.00" transform="translate(1482.50,111.90) scale(1.0474,1)">ZnO_0min</text>
<line x1="1315.5" x2="1468" y1="166.4" y2="166.4" stroke="#ff0000" stroke-width="5.0"/>
<text font-size="63.00" transform="translate(1482.50,186.83) scale(1.0474,1)">ZnO_30min</text>
<line x1="1315.5" x2="1468" y1="240.6" y2="240.6" stroke="#00ff00" stroke-width="5.0"/>
<text font-size="63.00" transform="translate(1482.50,261.76) scale(1.0474,1)">ZnO_60min</text>
<line x1="1315.5" x2="1468" y1="315.6" y2="315.6" stroke="#0000ff" stroke-width="5.0"/>
<text font-size="63.00" transform="translate(1482.50,336.69) scale(1.0474,1)">ZnO_90min</text>
<line x1="1315.5" x2="1468" y1="390.6" y2="390.6" stroke="#00ffff" stroke-width="5.0"/>
<text font-size="63.00" transform="translate(1482.50,411.62) scale(1.0474,1)">ZnO_120min</text>
<line x1="1315.5" x2="1468" y1="465.4" y2="465.4" stroke="#ff00ff" stroke-width="5.0"/>
<text font-size="63.00" transform="translate(1482.50,486.55) scale(1.0474,1)">ZnO_150min</text>
</g>
</svg></body></html>
